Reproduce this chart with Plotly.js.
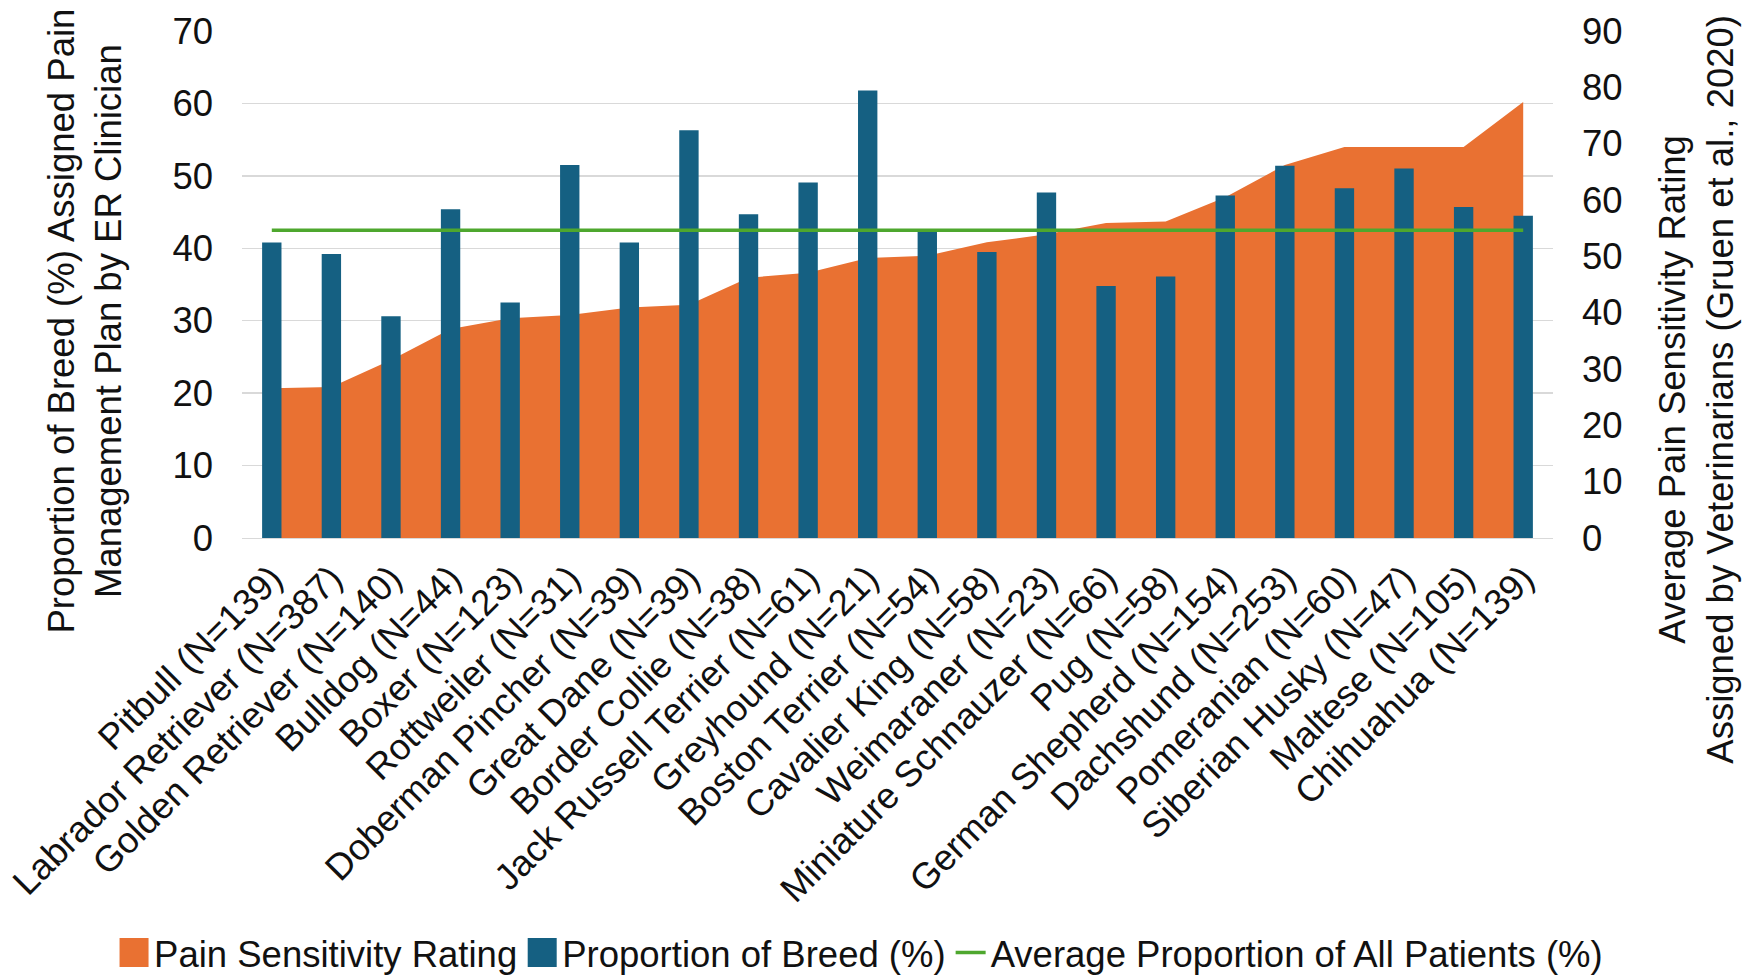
<!DOCTYPE html>
<html>
<head>
<meta charset="utf-8">
<script src="https://cdn.plot.ly/plotly-3.0.1.min.js"></script>
<style>
  html, body { margin: 0; padding: 0; background: #ffffff; }
  #chart { width: 1748px; height: 976px; }
</style>
</head>
<body>
<div id="chart"></div>
<script>
// ---- data ----
const breeds = [
  "Pitbull (N=139)", "Labrador Retriever (N=387)", "Golden Retriever (N=140)",
  "Bulldog (N=44)", "Boxer (N=123)", "Rottweiler (N=31)", "Doberman Pincher (N=39)",
  "Great Dane (N=39)", "Border Collie (N=38)", "Jack Russell Terrier (N=61)",
  "Greyhound (N=21)", "Boston Terrier (N=54)", "Cavalier King (N=58)",
  "Weimaraner (N=23)", "Miniature Schnauzer (N=66)", "Pug (N=58)",
  "German Shepherd (N=154)", "Dachshund (N=253)", "Pomeranian (N=60)",
  "Siberian Husky (N=47)", "Maltese (N=105)", "Chihuahua (N=139)"
];

// Average pain sensitivity rating (right axis, 0-90)
const painSensitivity = [
  26.6, 26.8, 31.6, 37.1, 39.0, 39.6, 40.9, 41.4, 46.2, 47.1, 49.7,
  50.1, 52.5, 53.9, 55.9, 56.2, 60.5, 66.2, 69.4, 69.4, 69.4, 77.4
];

// Proportion of breed (%) assigned pain management plan (left axis, 0-70)
const proportionOfBreed = [
  40.8, 39.2, 30.6, 45.4, 32.5, 51.5, 40.8, 56.3, 44.7, 49.1, 61.8,
  42.4, 39.5, 47.7, 34.8, 36.1, 47.3, 51.4, 48.3, 51.0, 45.7, 44.5
];

// Average proportion of all patients (%)
const averageProportion = [
  42.5, 42.5, 42.5, 42.5, 42.5, 42.5, 42.5, 42.5, 42.5, 42.5, 42.5,
  42.5, 42.5, 42.5, 42.5, 42.5, 42.5, 42.5, 42.5, 42.5, 42.5, 42.5
];

const leftTicks = [0, 10, 20, 30, 40, 50, 60, 70];
const rightTicks = [0, 10, 20, 30, 40, 50, 60, 70, 80, 90];

const seriesNames = [
  "Pain Sensitivity Rating",
  "Proportion of Breed (%)",
  "Average Proportion of All Patients (%)"
];
const leftTitle = "Proportion of Breed (%) Assigned Pain<br>Management Plan by ER Clinician";
const rightTitle = "Average Pain Sensitivity Rating<br>Assigned by Veterinarians (Gruen et al., 2020)";

// ---- styling ----
const FONT = "Liberation Sans, Arial, Helvetica, sans-serif";
const FS = 36.5;
const TXT = "#111111";
const ORANGE = "#E97132";
const BLUE = "#156082";
const GREEN = "#4EA72E";

const traces = [
  {
    type: "scatter",
    x: breeds,
    y: painSensitivity,
    name: seriesNames[0],
    mode: "none",
    fill: "tozeroy",
    fillcolor: ORANGE,
    xaxis: "x",
    yaxis: "y"
  },
  {
    type: "bar",
    x: breeds,
    y: proportionOfBreed,
    name: seriesNames[1],
    marker: { color: BLUE, line: { width: 0 } },
    xaxis: "x",
    yaxis: "y2"
  },
  {
    type: "scatter",
    x: breeds,
    y: averageProportion,
    name: seriesNames[2],
    mode: "lines",
    line: { color: GREEN, width: 3.5 },
    xaxis: "x",
    yaxis: "y2"
  }
];

const layout = {
  width: 1748,
  height: 976,
  paper_bgcolor: "#ffffff",
  plot_bgcolor: "#ffffff",
  font: { family: FONT, size: FS, color: TXT },
  margin: { l: 242, r: 195, t: 31, b: 438, pad: 0, autoexpand: false },
  bargap: 0.675,
  showlegend: true,
  legend: {
    orientation: "h",
    xref: "paper", yref: "paper",
    x: -0.0976, xanchor: "left",
    y: -0.818, yanchor: "middle",
    font: { family: FONT, size: FS, color: TXT },
    bgcolor: "rgba(0,0,0,0)",
    traceorder: "normal"
  },
  xaxis: {
    type: "category",
    categoryorder: "array",
    categoryarray: breeds,
    tickangle: -45,
    tickfont: { family: FONT, size: FS, color: TXT },
    ticklabelstandoff: 3,
    showgrid: false,
    zeroline: false,
    showline: true,
    linecolor: "#D9D9D9",
    linewidth: 1.3,
    ticks: "",
    automargin: false
  },
  yaxis: {
    side: "right",
    range: [0, 90],
    tickvals: rightTicks,
    showgrid: false,
    zeroline: false,
    showline: false,
    ticks: "",
    ticklabelstandoff: 28,
    tickfont: { family: FONT, size: FS, color: TXT },
    automargin: false
  },
  yaxis2: {
    overlaying: "y",
    side: "left",
    range: [0, 70],
    tickvals: leftTicks,
    showgrid: true,
    gridcolor: "#D9D9D9",
    gridwidth: 1.3,
    zeroline: false,
    showline: false,
    ticks: "",
    ticklabelstandoff: 28,
    tickfont: { family: FONT, size: FS, color: TXT },
    automargin: false
  },
  annotations: [
    {
      text: leftTitle,
      xref: "paper", yref: "paper",
      x: -0.1201, y: 0.428,
      xanchor: "center", yanchor: "middle",
      textangle: -90,
      showarrow: false,
      align: "center",
      font: { family: FONT, size: FS, color: TXT }
    },
    {
      text: rightTitle,
      xref: "paper", yref: "paper",
      x: 1.1095, y: 0.2936,
      xanchor: "center", yanchor: "middle",
      textangle: -90,
      showarrow: false,
      align: "center",
      font: { family: FONT, size: FS, color: TXT }
    }
  ]
};

function enlargeLegendKeys(gd) {
  // square keys like the reference legend
  gd.querySelectorAll(".legend path.js-fill").forEach(function (p) {
    p.setAttribute("d", "M5.5,-14.5h29v29h-29z");
  });
  gd.querySelectorAll(".legend .legendpoints path").forEach(function (p) {
    var d = p.getAttribute("d") || "";
    if (d.indexOf("M6,6H-6V-6H6Z") === 0 || p.classList.contains("legendbar")) {
      p.setAttribute("d", "M14.5,14.5H-14.5V-14.5H14.5Z");
    }
  });
}

Plotly.newPlot("chart", traces, layout, { displayModeBar: false, staticPlot: true }).then(function (gd) {
  enlargeLegendKeys(gd);
  gd.on("plotly_afterplot", function () { enlargeLegendKeys(gd); });
  setTimeout(function () { enlargeLegendKeys(gd); }, 200);
});
</script>
</body>
</html>
